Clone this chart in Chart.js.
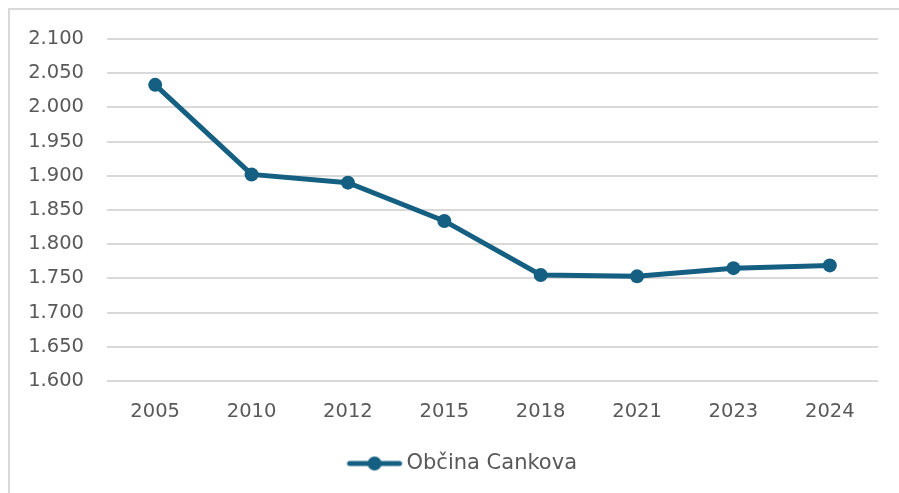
<!DOCTYPE html>
<html><head><meta charset="utf-8">
<script src="https://cdn.jsdelivr.net/npm/chart.js@4/dist/chart.umd.min.js"></script>
<style>
html,body{margin:0;padding:0;background:#fff;width:899px;height:493px;overflow:hidden;}
#frame{position:absolute;left:8px;top:8px;width:900px;height:500px;border-left:2px solid #d9d9d9;border-top:2px solid #d9d9d9;}
#wrap{position:absolute;left:0;top:0;width:899px;height:493px;}
</style></head>
<body>
<div id="frame"></div>
<div id="wrap"><canvas id="c" width="899" height="493"></canvas></div>
<script>
const years = ["2005","2010","2012","2015","2018","2021","2023","2024"];
const cankova = [2033, 1902, 1890, 1834, 1755, 1753, 1765, 1769];
const seriesName = "Občina Cankova";
const yMin = 1600, yMax = 2100, yStep = 50;

const COLOR = "#156082";
const FONT = "'DejaVu Sans', sans-serif";

const mk = document.createElement('canvas');
mk.width = 64; mk.height = 18;
(function(){
  const g = mk.getContext('2d');
  g.strokeStyle = COLOR; g.lineWidth = 5; g.lineCap = 'round';
  g.beginPath(); g.moveTo(7,9); g.lineTo(57,9); g.stroke();
  g.fillStyle = COLOR; g.beginPath(); g.arc(32,9,7,0,Math.PI*2); g.fill();
})();

// shift the legend's box to the right so it is centred like the reference
const legendShift = {
  id: 'legendShift',
  afterLayout(chart) {
    if (chart.legend) { chart.legend.left += 26; chart.legend.right += 26; }
  }
};

new Chart(document.getElementById('c'), {
  type: 'line',
  data: {
    labels: years,
    datasets: [{
      label: seriesName,
      data: cankova,
      borderColor: COLOR,
      backgroundColor: COLOR,
      borderWidth: 5,
      pointRadius: 7,
      pointHoverRadius: 7,
      pointBackgroundColor: COLOR,
      pointBorderWidth: 0,
      pointStyle: 'circle',
      tension: 0
    }]
  },
  plugins: [legendShift],
  options: {
    responsive: false,
    animation: false,
    devicePixelRatio: 1,
    layout: { padding: { top: 39, right: 21, left: 0, bottom: 9 } },
    plugins: {
      tooltip: { enabled: false },
      legend: {
        position: 'bottom',
        labels: {
          usePointStyle: true,
          pointStyle: mk,
          pointStyleWidth: 43,
          color: '#595959',
          font: { family: FONT, size: 21 },
          padding: 10,
          generateLabels(chart) {
            return [{ text: seriesName, pointStyle: mk, fillStyle: COLOR, strokeStyle: COLOR, lineWidth: 0, hidden: false, datasetIndex: 0, fontColor: '#595959' }];
          }
        }
      }
    },
    scales: {
      x: {
        offset: true,
        afterFit(s) { s.height = 62; },
        grid: { display: false, drawTicks: false },
        border: { display: false },
        ticks: { color: '#595959', font: { family: FONT, size: 19.5 }, padding: 19, maxRotation: 0 }
      },
      y: {
        min: yMin, max: yMax,
        afterFit(s) { s.width = 107; },
        grid: { color: '#d9d9d9', lineWidth: 2, drawTicks: false },
        border: { display: false },
        ticks: {
          stepSize: yStep,
          color: '#595959',
          font: { family: FONT, size: 19.5 },
          padding: 23,
          callback: v => (v/1000).toFixed(3)
        }
      }
    }
  }
});
</script>
</body></html>
